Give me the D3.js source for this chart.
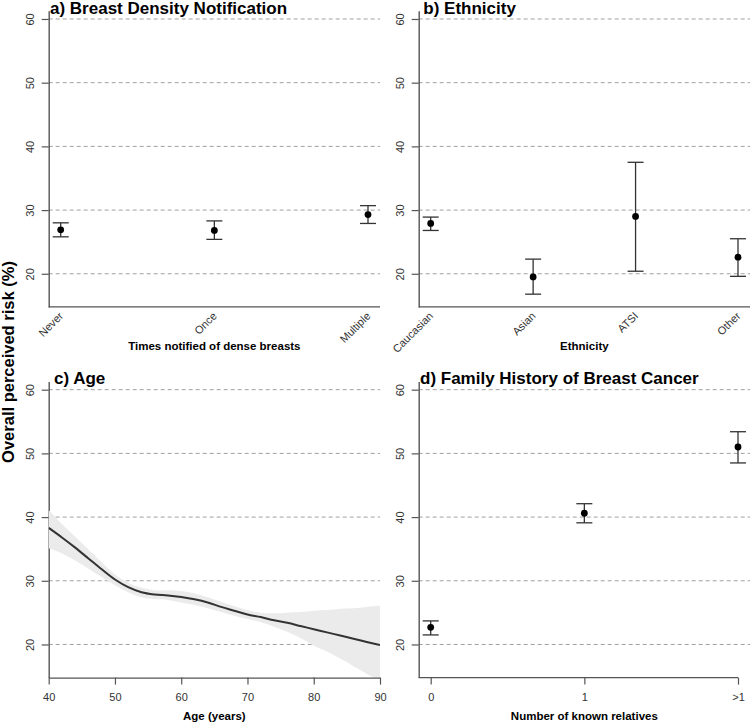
<!DOCTYPE html>
<html>
<head>
<meta charset="utf-8">
<script src="https://cdn.jsdelivr.net/npm/d3@7"></script>
<style>
  body { margin: 0; background: #fff; }
  svg { display: block; font-family: "Liberation Sans", Arial, sans-serif; }
</style>
</head>
<body>
<div id="container"></div>
<script>
var width = 751,
    height = 724;

// a) breast density notification
var notifCats = ["Never", "Once", "Multiple"];
var notifMean = [26.9, 26.8, 29.3];
var notifLo = [25.8, 25.4, 27.9];
var notifHi = [28.0, 28.3, 30.7];

// b) ethnicity
var ethCats = ["Caucasian", "Asian", "ATSI", "Other"];
var ethMean = [27.9, 19.5, 29.0, 22.6];
var ethLo = [26.8, 16.8, 20.4, 19.6];
var ethHi = [28.9, 22.3, 37.5, 25.5];

// c) age (smoothed fit with confidence band)
var ageX = [40, 42, 44, 46, 48, 50, 52, 54, 56, 58, 60, 62, 64, 66, 68, 70, 72, 74, 76, 78, 80, 82, 84, 86, 88, 90];
var ageFit = [38.3, 36.8, 35.2, 33.5, 31.8, 30.2, 29.0, 28.2, 27.85, 27.7, 27.45, 27.1, 26.6, 25.9, 25.3, 24.7, 24.3, 23.8, 23.4, 22.9, 22.4, 21.9, 21.4, 20.9, 20.4, 19.9];
var ageHi = [41.1, 38.9, 36.9, 34.9, 32.9, 31.0, 29.7, 28.9, 28.5, 28.5, 28.4, 28.0, 27.4, 26.7, 26.0, 25.4, 25.0, 24.9, 25.0, 25.1, 25.3, 25.4, 25.6, 25.7, 25.9, 26.1];
var ageLo = [35.1, 34.3, 33.2, 31.9, 30.6, 29.3, 28.2, 27.4, 27.1, 27.0, 26.6, 26.2, 25.7, 25.1, 24.5, 24.0, 23.5, 22.8, 22.0, 21.0, 19.8, 18.9, 17.8, 16.6, 15.4, 14.2];
var ageTicks = [40, 50, 60, 70, 80, 90];

// d) family history
var famCats = ["0", "1", ">1"];
var famMean = [22.7, 40.6, 51.0];
var famLo = [21.5, 39.1, 48.5];
var famHi = [23.7, 42.1, 53.4];

var yTicks = [20, 30, 40, 50, 60];
var yDomain = [14.8, 61.3];

var svg = d3.select("#container").append("svg")
    .attr("width", width)
    .attr("height", height);

var cols = [{ l: 48.7, r: 380 }, { l: 418.7, r: 750 }];
var rows = [{ t: 10.7, b: 306.9 }, { t: 381.4, b: 677.6 }];

var axisCol = "#555",
    textCol = "#333",
    gridCol = "#a0a0a0";

function frame(col, row, title, titleDx) {
    let c = cols[col], r = rows[row];
    let y = d3.scaleLinear().domain(yDomain).range([r.b, r.t]);
    let g = svg.append("g");

    // dashed reference lines
    g.selectAll(".grid")
        .data(yTicks)
        .enter().append("line")
        .attr("x1", c.l).attr("x2", c.r)
        .attr("y1", d => y(d)).attr("y2", d => y(d))
        .attr("stroke", gridCol)
        .attr("stroke-width", 1)
        .attr("stroke-dasharray", "4,3");

    let ya = g.append("g")
        .attr("transform", "translate(" + c.l + ",0)")
        .call(d3.axisLeft(y).tickValues(yTicks).tickSize(7).tickSizeOuter(0));
    ya.select(".domain").attr("stroke", axisCol).attr("stroke-width", 1.4);
    ya.selectAll(".tick line").attr("stroke", axisCol).attr("stroke-width", 1.2);
    ya.selectAll(".tick text")
        .attr("x", null).attr("dy", null)
        .attr("transform", "translate(-15,0) rotate(-90)")
        .attr("text-anchor", "middle")
        .attr("fill", textCol)
        .style("font-size", "11px");

    g.append("text")
        .attr("x", c.l + titleDx)
        .attr("y", r.t + 2.8)
        .attr("font-weight", "bold")
        .style("font-size", "17px")
        .attr("fill", "#000")
        .text(title);

    return { g: g, y: y, c: c, r: r };
}

function catPanel(col, row, title, titleDx, cats, mean, lo, hi, xTitle, rotated) {
    let p = frame(col, row, title, titleDx);
    let x = d3.scalePoint().domain(cats).range([p.c.l + 12, p.c.r - 12]);
    let y = p.y;

    if (rotated) {
        p.g.append("line")
            .attr("x1", p.c.l).attr("x2", p.c.r)
            .attr("y1", p.r.b).attr("y2", p.r.b)
            .attr("stroke", axisCol).attr("stroke-width", 1.4);
        p.g.selectAll(".xl")
            .data(cats)
            .enter().append("text")
            .attr("transform", d => "translate(" + (x(d) + 0.5) + "," + (p.r.b + 7) + ") rotate(-45)")
            .attr("text-anchor", "end")
            .attr("dy", "0.35em")
            .attr("fill", textCol)
            .style("font-size", "11px")
            .text(d => d);
        p.g.append("text")
            .attr("x", (p.c.l + p.c.r) / 2)
            .attr("y", p.r.b + 43)
            .attr("text-anchor", "middle")
            .attr("font-weight", "bold")
            .style("font-size", "11.5px")
            .text(xTitle);
    } else {
        p.g.append("line")
            .attr("x1", p.c.l).attr("x2", x(cats[cats.length - 1]))
            .attr("y1", p.r.b).attr("y2", p.r.b)
            .attr("stroke", axisCol).attr("stroke-width", 1.4);
        let xa = p.g.append("g")
            .attr("transform", "translate(0," + p.r.b + ")")
            .call(d3.axisBottom(x).tickSize(7).tickSizeOuter(0).tickPadding(9));
        xa.select(".domain").remove();
        xa.selectAll(".tick line").attr("stroke", axisCol).attr("stroke-width", 1.2);
        xa.selectAll(".tick text").attr("fill", textCol).style("font-size", "11px");
        p.g.append("text")
            .attr("x", (p.c.l + p.c.r) / 2)
            .attr("y", p.r.b + 42.4)
            .attr("text-anchor", "middle")
            .attr("font-weight", "bold")
            .style("font-size", "11.5px")
            .text(xTitle);
    }

    let rowsData = cats.map((d, i) => ({ cat: d, m: mean[i], lo: lo[i], hi: hi[i] }));
    let eb = p.g.selectAll(".eb")
        .data(rowsData)
        .enter().append("g");
    eb.append("line")
        .attr("x1", d => x(d.cat)).attr("x2", d => x(d.cat))
        .attr("y1", d => y(d.lo)).attr("y2", d => y(d.hi))
        .attr("stroke", "#333").attr("stroke-width", 1.3);
    eb.append("line")
        .attr("x1", d => x(d.cat) - 8).attr("x2", d => x(d.cat) + 8)
        .attr("y1", d => y(d.hi)).attr("y2", d => y(d.hi))
        .attr("stroke", "#333").attr("stroke-width", 1.3);
    eb.append("line")
        .attr("x1", d => x(d.cat) - 8).attr("x2", d => x(d.cat) + 8)
        .attr("y1", d => y(d.lo)).attr("y2", d => y(d.lo))
        .attr("stroke", "#333").attr("stroke-width", 1.3);
    eb.append("circle")
        .attr("cx", d => x(d.cat))
        .attr("cy", d => y(d.m))
        .attr("r", 3.4)
        .attr("fill", "#000");
}

catPanel(0, 0, "a) Breast Density Notification", 1.3, notifCats, notifMean, notifLo, notifHi, "Times notified of dense breasts", true);
catPanel(1, 0, "b) Ethnicity", 4.6, ethCats, ethMean, ethLo, ethHi, "Ethnicity", true);
catPanel(1, 1, "d) Family History of Breast Cancer", 1.3, famCats, famMean, famLo, famHi, "Number of known relatives", false);

// c) age panel
(function () {
    let p = frame(0, 1, "c) Age", 5.3);
    let x = d3.scaleLinear().domain([40, 90]).range([p.c.l, p.c.r]);
    let y = p.y;
    let ageData = ageX.map((d, i) => ({ a: d, f: ageFit[i], lo: ageLo[i], hi: ageHi[i] }));

    svg.append("clipPath").attr("id", "clipAge")
        .append("rect")
        .attr("x", p.c.l).attr("y", p.r.t)
        .attr("width", p.c.r - p.c.l).attr("height", p.r.b - p.r.t);

    let band = d3.area()
        .x(d => x(d.a))
        .y0(d => y(d.lo))
        .y1(d => y(d.hi))
        .curve(d3.curveCatmullRom.alpha(0.5));
    let line = d3.line()
        .x(d => x(d.a))
        .y(d => y(d.f))
        .curve(d3.curveCatmullRom.alpha(0.5));

    let pg = p.g.append("g").attr("clip-path", "url(#clipAge)");
    pg.append("path")
        .attr("d", band(ageData))
        .attr("fill", "#ebebeb");
    pg.append("path")
        .attr("d", line(ageData))
        .attr("fill", "none")
        .attr("stroke", "#333")
        .attr("stroke-width", 2);

    // keep the axis line above the band
    p.g.select(".domain").raise();

    let xa = p.g.append("g")
        .attr("transform", "translate(0," + p.r.b + ")")
        .call(d3.axisBottom(x).tickValues(ageTicks).tickSize(7).tickSizeOuter(0).tickPadding(9));
    xa.select(".domain").attr("stroke", axisCol).attr("stroke-width", 1.4);
    xa.selectAll(".tick line").attr("stroke", axisCol).attr("stroke-width", 1.2);
    xa.selectAll(".tick text").attr("fill", textCol).style("font-size", "11px");

    p.g.append("text")
        .attr("x", (p.c.l + p.c.r) / 2)
        .attr("y", p.r.b + 42.4)
        .attr("text-anchor", "middle")
        .attr("font-weight", "bold")
        .style("font-size", "11.5px")
        .text("Age (years)");
})();

svg.append("text")
    .attr("transform", "translate(13.5,362) rotate(-90)")
    .attr("text-anchor", "middle")
    .attr("font-weight", "bold")
    .style("font-size", "16.5px")
    .text("Overall perceived risk (%)");
</script>
</body>
</html>
